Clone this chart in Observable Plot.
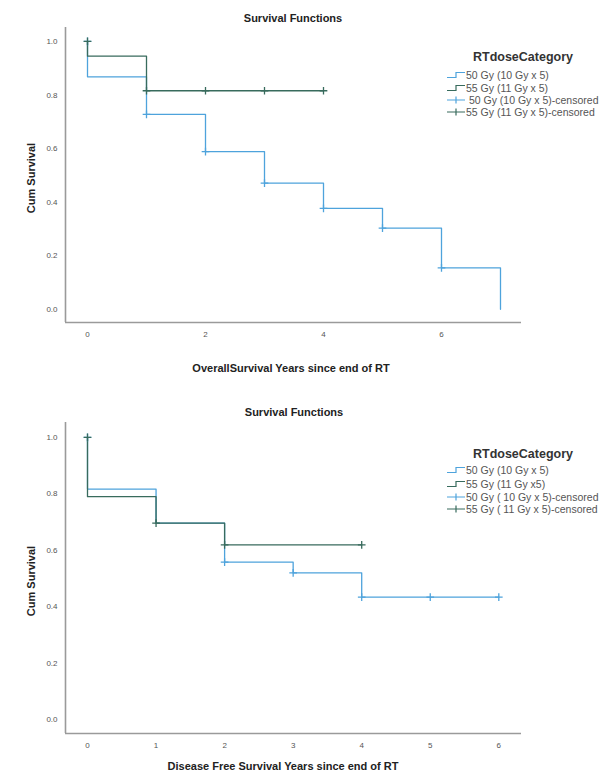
<!DOCTYPE html>
<html>
<head>
<meta charset="utf-8">
<script src="https://cdn.jsdelivr.net/npm/d3@7"></script>
<script src="https://cdn.jsdelivr.net/npm/@observablehq/plot@0.6"></script>
<style>
  html, body { margin: 0; padding: 0; background: #fff; }
  #wrap { position: relative; width: 609px; height: 771px; overflow: hidden; font-family: "Liberation Sans", Arial, sans-serif; }
  .abs { position: absolute; white-space: pre; }
  .title { font-weight: bold; font-size: 11px; color: #222; transform: translate(-50%, -50%); }
  .xlab { font-weight: bold; font-size: 11px; color: #222; transform: translate(-50%, -50%); }
  .ylab { font-weight: bold; font-size: 11px; color: #222; transform: translate(-50%, -50%) rotate(-90deg); }
  .legtitle { font-weight: bold; font-size: 12.5px; color: #333; transform: translate(-50%, -50%); }
  .legrow { font-size: 10.5px; color: #555; display: flex; align-items: center; transform: translateY(-50%); }
  .legrow svg { flex: none; }
  svg.plot { position: absolute; left: 0; }
</style>
</head>
<body>
<div id="wrap"></div>
<script>
// ---------- Data ----------
const seriesNames = ["50 Gy (10 Gy x 5)", "55 Gy (11 Gy x 5)"];
const colors = ["#4ea3dc", "#386b5d"];

// Overall survival
const osTime50 = [0, 0, 1, 2, 3, 4, 5, 6, 7];
const osSurv50 = [1.0, 0.868, 0.728, 0.589, 0.471, 0.377, 0.303, 0.155, 0.0];
const osTime55 = [0, 0, 1, 4];
const osSurv55 = [1.0, 0.945, 0.816, 0.816];
const osCensTime50 = [0, 1, 2, 3, 4, 5, 6];
const osCensSurv50 = [1.0, 0.728, 0.589, 0.471, 0.377, 0.303, 0.155];
const osCensTime55 = [0, 1, 2, 3, 4];
const osCensSurv55 = [1.0, 0.816, 0.816, 0.816, 0.816];
const osXTicks = [0, 2, 4, 6];

// Disease free survival
const dfsTime50 = [0, 0, 1, 2, 3, 4, 6];
const dfsSurv50 = [1.0, 0.817, 0.696, 0.558, 0.520, 0.434, 0.434];
const dfsTime55 = [0, 0, 1, 2, 4];
const dfsSurv55 = [1.0, 0.790, 0.696, 0.619, 0.619];
const dfsCensTime50 = [0, 2, 3, 4, 5, 6];
const dfsCensSurv50 = [1.0, 0.558, 0.520, 0.434, 0.434, 0.434];
const dfsCensTime55 = [0, 1, 2, 4];
const dfsCensSurv55 = [1.0, 0.696, 0.619, 0.619];
const dfsXTicks = [0, 1, 2, 3, 4, 5, 6];

const yTicks = [0, 0.2, 0.4, 0.6, 0.8, 1.0];

const legendTop = ["50 Gy (10 Gy x 5)", "55 Gy (11 Gy x 5)", " 50 Gy (10 Gy x 5)-censored", "55 Gy (11 Gy x 5)-censored"];
const legendBottom = ["50 Gy (10 Gy x 5)", "55 Gy (11 Gy x5)", "50 Gy ( 10 Gy x 5)-censored", "55 Gy ( 11 Gy x 5)-censored"];

// ---------- helpers ----------
const zip = (t, s) => t.map((d, i) => ({t: d, s: s[i]}));
const wrap = document.getElementById("wrap");

function survPlot({top, height, mTop, mBottom, xDomain, yDomain, xTicks, lines, cens}) {
  const axisColor = "#9a9a9a";
  const chart = Plot.plot({
    width: 609,
    height,
    marginLeft: 65,
    marginRight: 88,
    marginTop: mTop,
    marginBottom: mBottom,
    style: {fontFamily: "Liberation Sans, Arial, sans-serif", fontSize: "8px", color: "#555", background: "transparent"},
    x: {domain: xDomain, ticks: xTicks, tickSize: 0, tickPadding: 9, tickFormat: d3.format("d"), label: null},
    y: {domain: yDomain, ticks: yTicks, tickSize: 0, tickPadding: 8, tickFormat: d3.format(".1f"), label: null},
    marks: [
      Plot.ruleX([xDomain[0]], {stroke: axisColor, strokeWidth: 1.6}),
      Plot.ruleY([yDomain[0]], {stroke: axisColor, strokeWidth: 1.6}),
      ...lines.map((data, i) => Plot.line(data, {x: "t", y: "s", curve: "step-after", stroke: colors[i], strokeWidth: 1.3})),
      ...cens.map((data, i) => Plot.dot(data, {x: "t", y: "s", symbol: "plus", r: 2.6, stroke: colors[i], strokeWidth: 1.3}))
    ]
  });
  chart.classList.add("plot");
  chart.style.top = top + "px";
  wrap.appendChild(chart);
}

function addText(cls, text, x, y) {
  const d = document.createElement("div");
  d.className = "abs " + cls;
  d.textContent = text;
  d.style.left = x + "px";
  d.style.top = y + "px";
  wrap.appendChild(d);
}

function glyph(kind, color) {
  const ns = "http://www.w3.org/2000/svg";
  const s = document.createElementNS(ns, "svg");
  s.setAttribute("width", 19);
  s.setAttribute("height", 10);
  const p = document.createElementNS(ns, "path");
  p.setAttribute("fill", "none");
  p.setAttribute("stroke", color);
  p.setAttribute("stroke-width", 1.2);
  p.setAttribute("d", kind === "line" ? "M0,7.5H9V2.5H18" : "M0,5H18M9,1.5V8.5");
  s.appendChild(p);
  return s;
}

function addLegend(x, titleY, rowYs, labels, glyphX) {
  addText("legtitle", "RTdoseCategory", x, titleY);
  labels.forEach((lab, i) => {
    const row = document.createElement("div");
    row.className = "abs legrow";
    row.style.left = glyphX + "px";
    row.style.top = rowYs[i] + "px";
    row.appendChild(glyph(i < 2 ? "line" : "cens", colors[i % 2]));
    const sp = document.createElement("span");
    sp.textContent = lab;
    sp.style.whiteSpace = "pre";
    row.appendChild(sp);
    wrap.appendChild(row);
  });
}

// ---------- Top chart: overall survival ----------
survPlot({
  top: 0, height: 380, mTop: 27, mBottom: 58,
  xDomain: [-0.373, 7.356], yDomain: [-0.049, 1.052], xTicks: osXTicks,
  lines: [zip(osTime50, osSurv50), zip(osTime55, osSurv55)],
  cens: [zip(osCensTime50, osCensSurv50), zip(osCensTime55, osCensSurv55)]
});
addText("title", "Survival Functions", 293, 18);
addText("ylab", "Cum Survival", 31, 178);
addText("xlab", "OverallSurvival Years since end of RT", 291, 368);
addLegend(523, 57, [75, 87.5, 99.5, 111.5], legendTop, 447);

// ---------- Bottom chart: disease free survival ----------
survPlot({
  top: 380, height: 391, mTop: 42, mBottom: 38,
  xDomain: [-0.321, 6.331], yDomain: [-0.0495, 1.053], xTicks: dfsXTicks,
  lines: [zip(dfsTime50, dfsSurv50), zip(dfsTime55, dfsSurv55)],
  cens: [zip(dfsCensTime50, dfsCensSurv50), zip(dfsCensTime55, dfsCensSurv55)]
});
addText("title", "Survival Functions", 294, 412);
addText("ylab", "Cum Survival", 31, 581);
addText("xlab", "Disease Free Survival Years since end of RT", 283, 766);
addLegend(523, 454, [470, 483.5, 496.5, 509], legendBottom, 447);
</script>
</body>
</html>
